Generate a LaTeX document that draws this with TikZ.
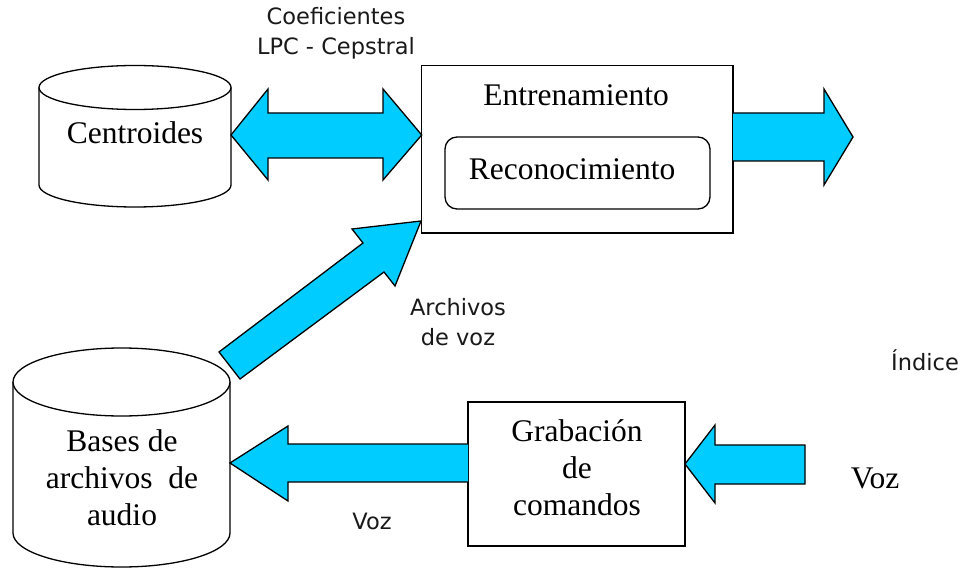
\documentclass[tikz,border=0pt]{standalone}
\usepackage{fontspec}
\setmainfont{Liberation Serif}
\newfontfamily\lblfont{DejaVu Sans}
\begin{document}
\begin{tikzpicture}[x=1pt,y=-1pt,
  line width=1.3pt,
  blockarrow/.style={draw=black,fill=arrowcyan,line join=miter},
  boxstyle/.style={draw=black,line width=1.3pt},
  sertext/.style={font=\fontsize{31.5}{37}\selectfont,align=center,inner sep=0pt},
  santext/.style={font=\lblfont\fontsize{22.5}{30}\selectfont,align=center,inner sep=0pt,text=black!90}]
\definecolor{arrowcyan}{HTML}{00CCFF}
\useasboundingbox (0,0) rectangle (963,569);

% Centroides cylinder
\draw[boxstyle,fill=white] (39,87.5) -- (39,185) arc[start angle=180,end angle=0,x radius=96,y radius=22] -- (231,87.5);
\draw[boxstyle,fill=white] (135,87.5) ellipse[x radius=96,y radius=22];
\node[sertext] (cent) at (135,133) {Centroides};

% Bases cylinder
\draw[boxstyle,fill=white] (13,382) -- (13,533) arc[start angle=180,end angle=0,x radius=108.5,y radius=34] -- (230,382);
\draw[boxstyle,fill=white] (121.5,382) ellipse[x radius=108.5,y radius=34];
\node[sertext] (bases) at (122,478) {Bases de\\archivos~~de\\audio};

% Entrenamiento box
\draw[boxstyle] (421.7,65.5) rectangle (733,233);
\node[sertext] (ent) at (576,95) {Entrenamiento};
\draw[boxstyle,rounded corners=12pt] (445,137) rectangle (710,209);
\node[sertext] (rec) at (572,169) {Reconocimiento};

% Grabacion box
\draw[boxstyle] (468,402) rectangle (685,546);
\node[sertext] (grab) at (577,468) {Grabación\\de\\comandos};

% Double arrow Centroides <-> Entrenamiento
\draw[blockarrow] (231,135) -- (268,89) -- (268,113) -- (383,113) -- (383,89) -- (421.7,135)
  -- (383,180) -- (383,158) -- (268,158) -- (268,180) -- cycle;

% Output arrow right
\draw[blockarrow] (733,113) -- (824,113) -- (824,89) -- (853,137) -- (824,185) -- (824,161) -- (733,161);

% Diagonal arrow Bases -> Entrenamiento
\draw[blockarrow] (219,352) -- (363,243) -- (352,229) -- (421,221) -- (395,286) -- (384,272) -- (240,379) -- cycle;

% Voz arrow Grabacion -> Bases
\draw[blockarrow] (468,444) -- (288,444) -- (288,426) -- (230,463) -- (288,501) -- (288,482) -- (468,482);

% Voz arrow into Grabacion
\draw[blockarrow] (805,445) -- (715,445) -- (715,425) -- (685,464) -- (715,503) -- (715,484) -- (805,484) -- cycle;

% labels
\node[santext] (coef) at (336,33) {Coeficientes\\LPC - Cepstral};
\node[santext] (arch) at (458,322) {Archivos\\de voz};
\node[santext] (indice) at (925,360) {Índice};
\node[santext] (vozb) at (372,521) {Voz};
\node[sertext] (vozr) at (875,478) {Voz};
\end{tikzpicture}
\end{document}
